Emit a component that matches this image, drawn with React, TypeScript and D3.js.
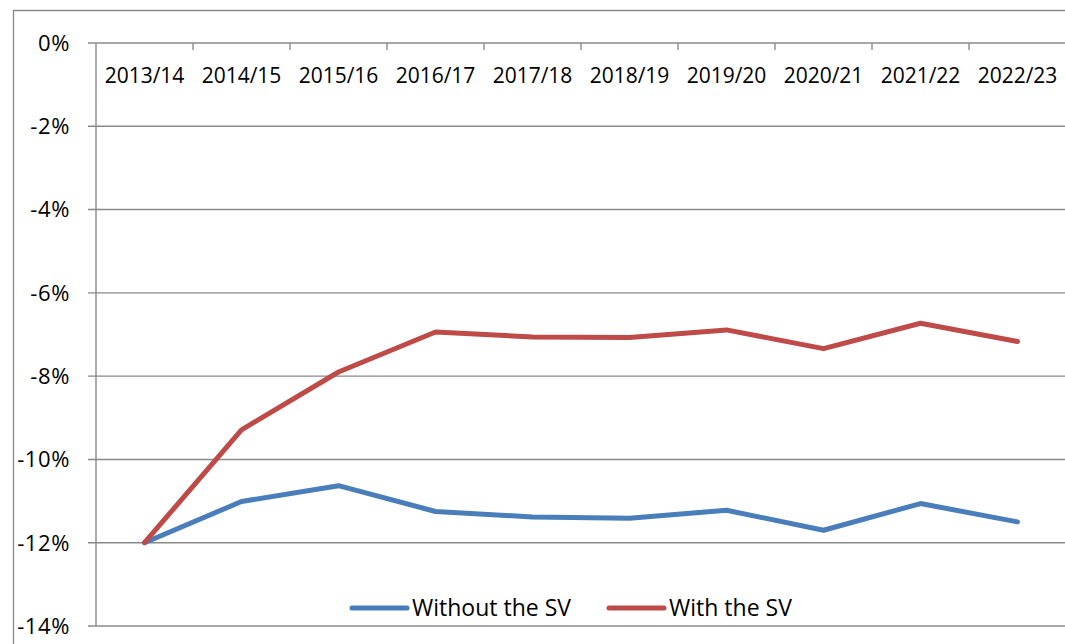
import React from "react";
import * as d3 from "d3";

const categories = ["2013/14", "2014/15", "2015/16", "2016/17", "2017/18", "2018/19", "2019/20", "2020/21", "2021/22", "2022/23"];
const withoutSV = [-12.0, -11.01, -10.63, -11.25, -11.38, -11.41, -11.22, -11.7, -11.06, -11.5];
const withSV = [-12.0, -9.29, -7.9, -6.94, -7.06, -7.07, -6.89, -7.34, -6.73, -7.17];
const yTicks = [0, -2, -4, -6, -8, -10, -12, -14];
const seriesNames = ["Without the SV", "With the SV"];

const W = 1065;
const H = 644;
const FONT = "'Open Sans', 'Noto Sans', sans-serif";
const GRID = "#8a8a8a";
const BLUE = "#4a7ebb";
const RED = "#be4b48";

export default function App() {
  const x = d3.scaleBand<string>().domain(categories).range([96, 1066]);
  const y = d3.scaleLinear().domain([-14, 0]).range([626, 43]);
  const line = d3
    .line<number>()
    .x((_, i) => (x(categories[i]) as number) + x.bandwidth() / 2)
    .y((d) => y(d));

  const series = [
    { name: seriesNames[0], values: withoutSV, color: BLUE },
    { name: seriesNames[1], values: withSV, color: RED },
  ];

  return (
    <svg
      width={W}
      height={H}
      style={{ position: "absolute", left: 0, top: 0, background: "#fff" }}
      fontFamily={FONT}
    >
      <rect x={0} y={0} width={W} height={H} fill="#fff" />
      {/* outer frame */}
      <path d={`M13.5,${H} V10.5 H${W}`} fill="none" stroke={GRID} strokeWidth={1.3} />
      {/* gridlines and y ticks */}
      {yTicks.map((t) => (
        <g key={t}>
          <line x1={88} x2={W} y1={y(t)} y2={y(t)} stroke={GRID} strokeWidth={1.4} />
          <text x={70} y={y(t)} dy="0.36em" textAnchor="end" fontSize={22} letterSpacing={0.6} fill="#000">
            {`${t}%`}
          </text>
        </g>
      ))}
      {/* left axis */}
      <line x1={96} x2={96} y1={y(0)} y2={y(-14)} stroke={GRID} strokeWidth={1.4} />
      {/* x ticks at band boundaries */}
      {categories.slice(1).map((c) => (
        <line
          key={c}
          x1={x(c) as number}
          x2={x(c) as number}
          y1={y(0)}
          y2={y(0) + 7}
          stroke={GRID}
          strokeWidth={1.4}
        />
      ))}
      {/* category labels */}
      {categories.map((c) => (
        <text
          key={c}
          x={(x(c) as number) + x.bandwidth() / 2}
          y={83}
          textAnchor="middle"
          fontSize={21}
          fill="#000"
        >
          {c}
        </text>
      ))}
      {/* series lines */}
      {series.map((s) => (
        <path
          key={s.name}
          d={line(s.values) || ""}
          fill="none"
          stroke={s.color}
          strokeWidth={5}
          strokeLinejoin="round"
          strokeLinecap="round"
        />
      ))}
      {/* legend */}
      {series.map((s, i) => {
        const lx = [352, 609][i];
        return (
          <g key={s.name}>
            <line x1={lx} x2={lx + 55} y1={608} y2={608} stroke={s.color} strokeWidth={5} strokeLinecap="round" />
            <text x={lx + 60} y={616} fontSize={23} fill="#000">
              {s.name}
            </text>
          </g>
        );
      })}
    </svg>
  );
}
